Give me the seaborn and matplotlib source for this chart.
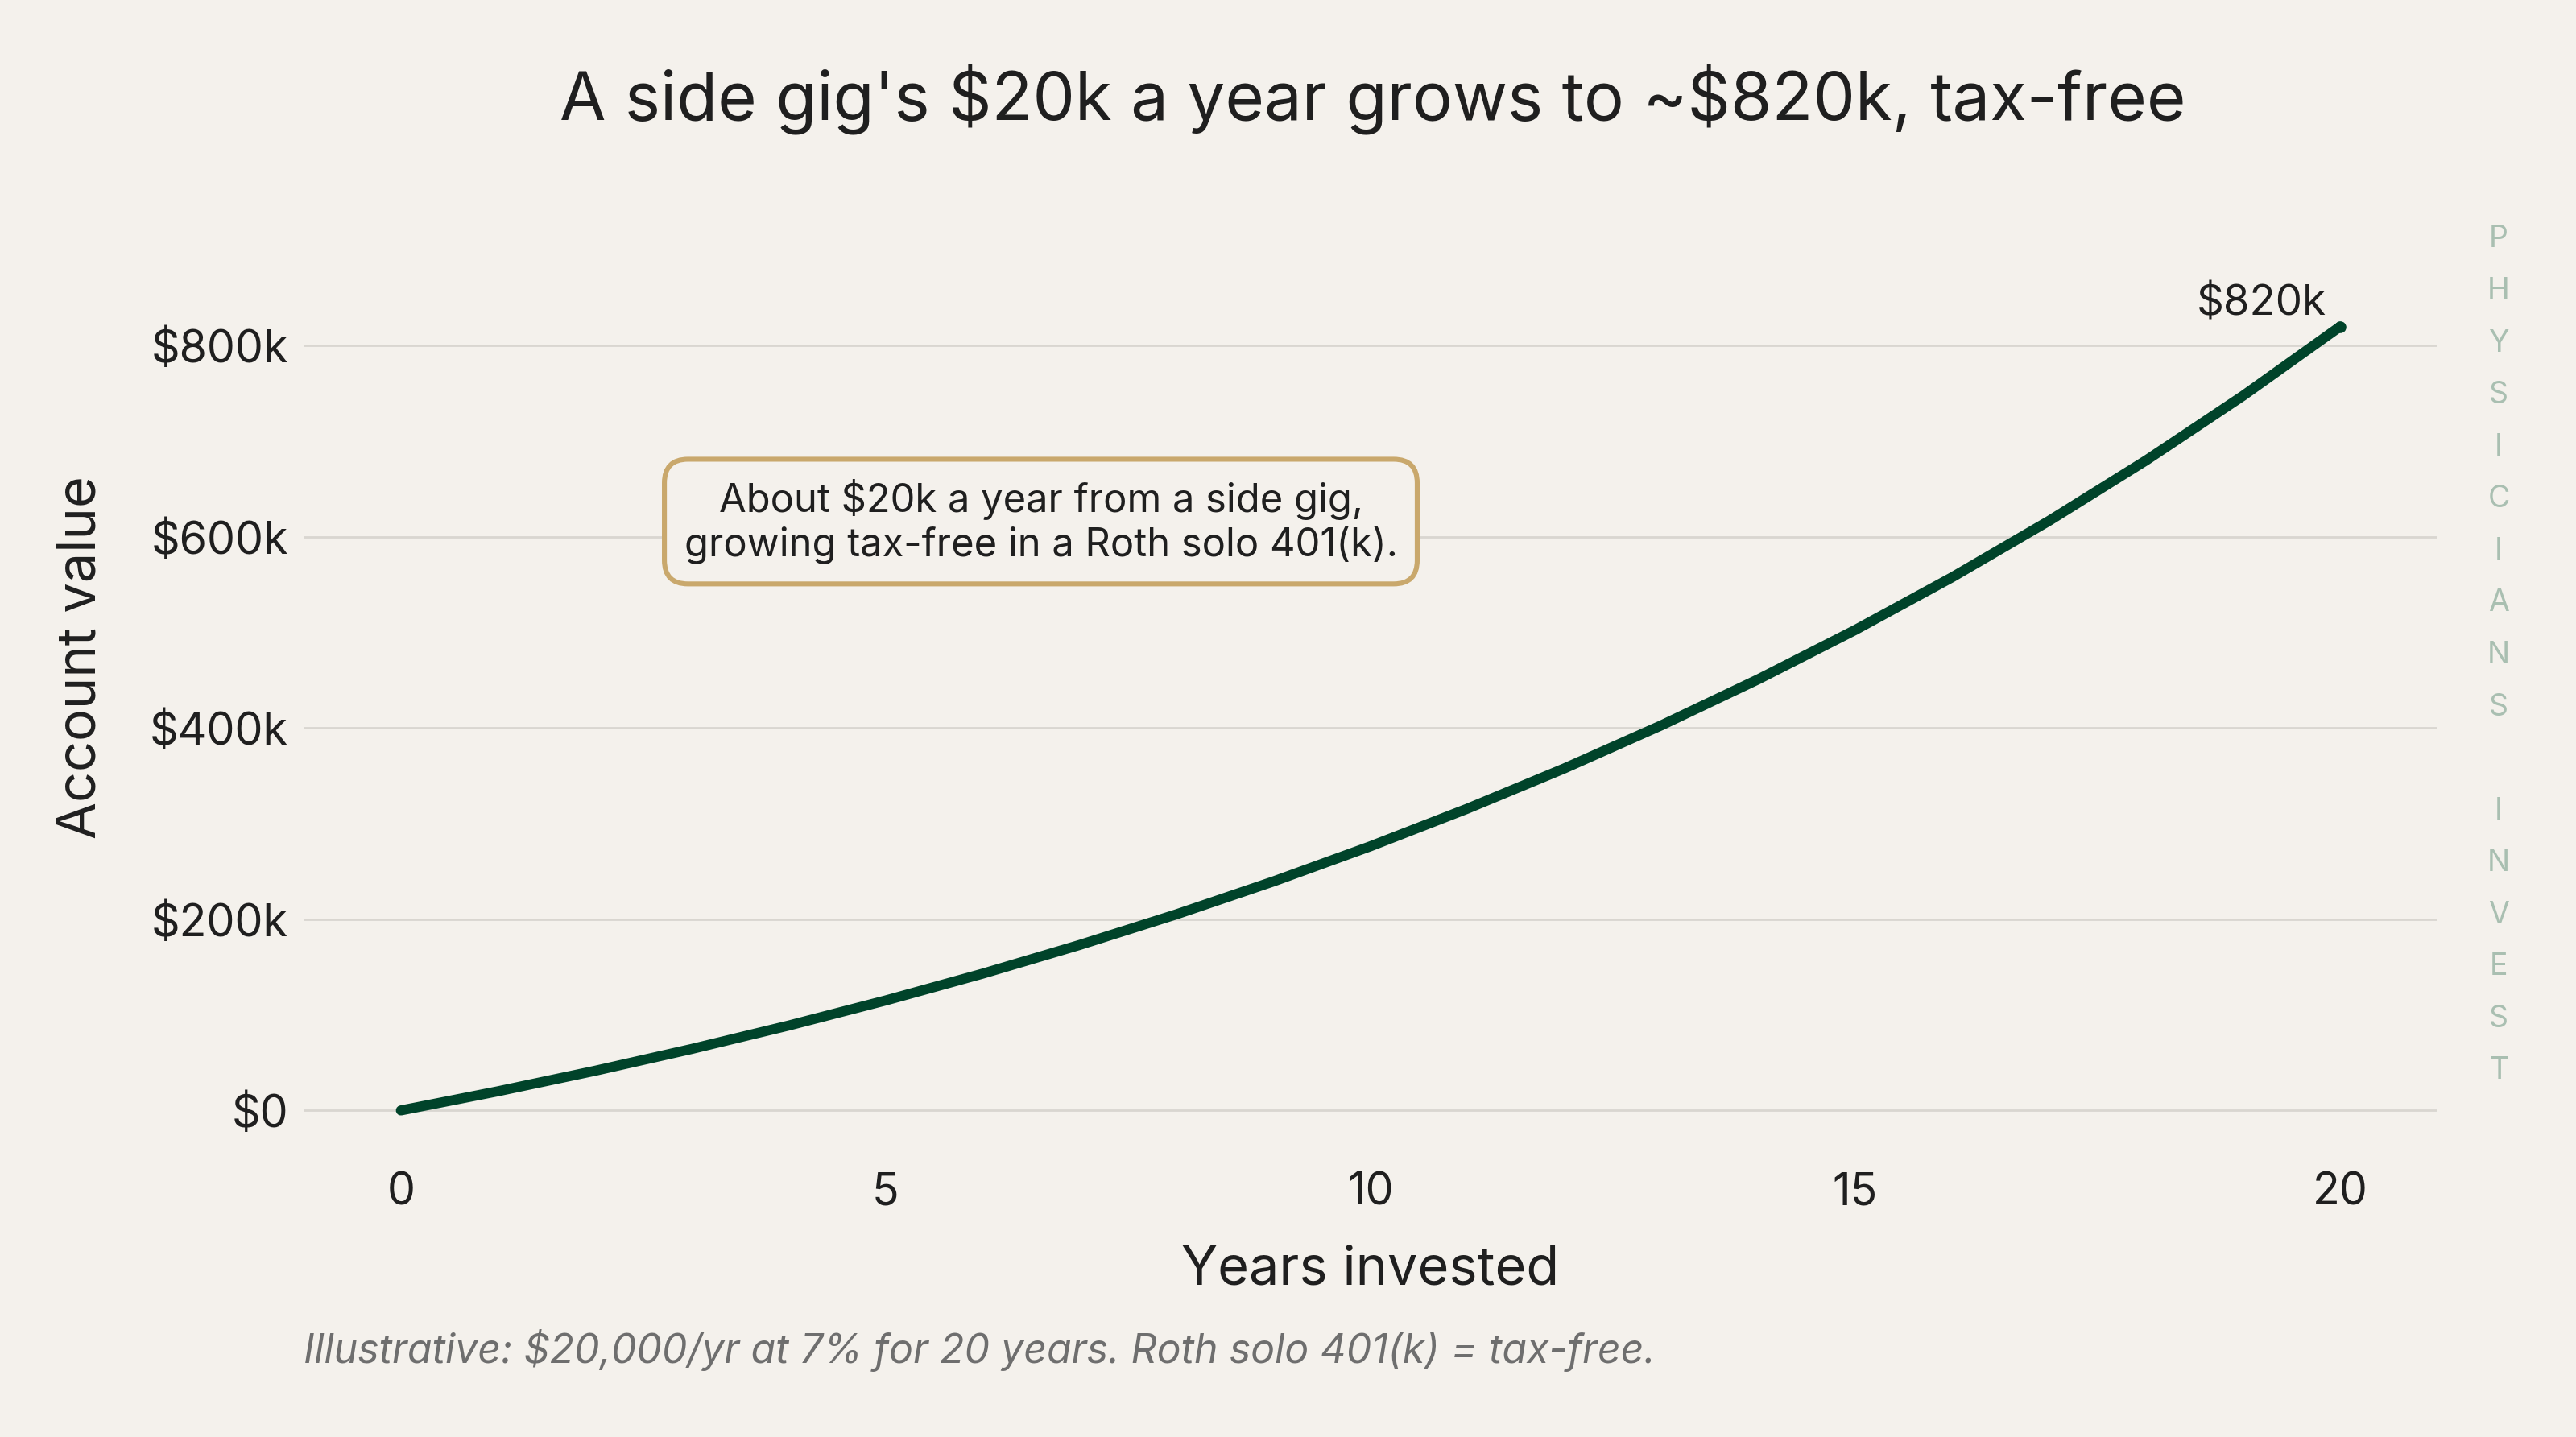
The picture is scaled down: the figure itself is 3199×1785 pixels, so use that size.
import matplotlib
matplotlib.use("Agg")
import matplotlib.pyplot as plt
import seaborn as sns
import pandas as pd

years = list(range(0, 21))
values = [0, 20000, 41400, 64298, 88799, 115015, 143066, 173080, 205196, 239560,
          276329, 315672, 357769, 402813, 451010, 502581, 557762, 616805, 679982,
          747580, 819910]
y_ticks = [0, 200000, 400000, 600000, 800000]
y_tick_labels = ["$0", "$200k", "$400k", "$600k", "$800k"]
x_ticks = [0, 5, 10, 15, 20]

title = "A side gig's \\$20k a year grows to ~\\$820k, tax-free"
note = "About $20k a year from a side gig,\ngrowing tax-free in a Roth solo 401(k)."
footnote = "Illustrative: $20,000/yr at 7% for 20 years. Roth solo 401(k) = tax-free."
end_label = "$820k"
watermark = "PHYSICIANS INVEST"

BG = "#f4f1ec"
GREEN = "#00432a"
GRID = "#d9d6d0"
TEXT = "#1f1f1f"

sns.set_theme(style="white")
plt.rcParams["font.family"] = ["Inter", "DejaVu Sans"]

df = pd.DataFrame({"year": years, "value": values})

fig = plt.figure(figsize=(15.995, 8.925), dpi=200, facecolor=BG)
ax = fig.add_axes([0.118, 0.2, 0.828, 0.6], facecolor=BG)

sns.lineplot(data=df, x="year", y="value", ax=ax, color=GREEN, linewidth=4.5)

ax.set_xlim(-1, 21)
ax.set_ylim(-41000, 861000)
ax.set_yticks(y_ticks)
ax.set_yticklabels(y_tick_labels)
ax.set_xticks(x_ticks)
ax.grid(axis="y", color=GRID, linewidth=1.0)
ax.grid(axis="x", visible=False)
for s in ax.spines.values():
    s.set_visible(False)
ax.tick_params(axis="both", labelsize=20, colors=TEXT, length=4, width=0.8, pad=3)
ax.tick_params(axis="x", pad=6)

ax.set_xlabel("Years invested", fontsize=24, color=TEXT, labelpad=14)
ax.set_ylabel("Account value", fontsize=24, color=TEXT)
ax.yaxis.set_label_coords(-0.0925, 0.571)

ax.scatter([years[-1]], [values[-1]], s=18, color=GREEN, zorder=4)
ax.annotate(end_label, xy=(years[-1], values[-1]), xytext=(-6, 10),
            textcoords="offset points", ha="right", va="center",
            fontsize=19, color=TEXT)

ax.text(6.6, 616000, note, ha="center", va="center", fontsize=17.6, color=TEXT,
        linespacing=1.2,
        bbox=dict(boxstyle="round,pad=0.5,rounding_size=0.6", facecolor=BG,
                  edgecolor="#c9a86c", linewidth=2.2))

fig.text(0.533, 0.931, title, ha="center", va="center", fontsize=30, color=TEXT)
fig.text(0.118, 0.06, footnote, ha="left", va="center", fontsize=18,
         color="#6e6e6e", style="italic")

fig.text(0.970, 0.544, "\n".join(list(watermark)), ha="center", va="center",
         fontsize=13.5, color="#a9bfb1", linespacing=2.02)

fig.savefig("out.png", dpi=200, facecolor=BG)
